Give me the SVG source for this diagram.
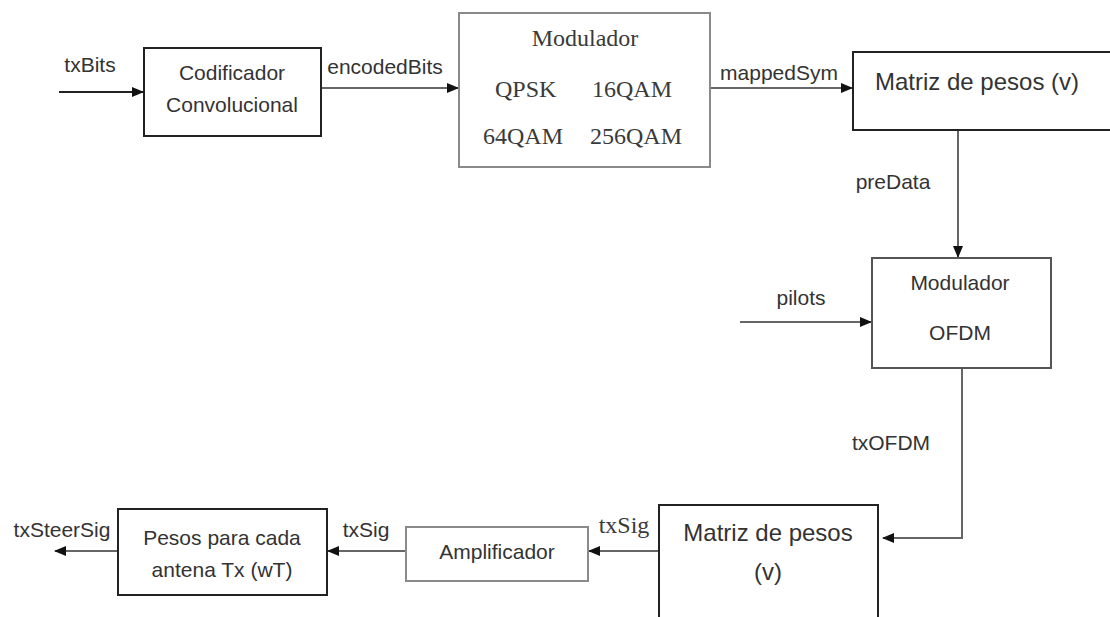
<svg xmlns="http://www.w3.org/2000/svg" width="1110" height="617" viewBox="0 0 1110 617">
  <style>
    .box { fill: #ffffff; stroke-width: 2; }
    .dark { stroke: #222222; }
    .grey { stroke: #8a8a8a; }
    .mid { stroke: #555555; }
    .sans { font-family: "Liberation Sans", Arial, sans-serif; fill: #333333; }
    .serif { font-family: "Liberation Serif", "Times New Roman", serif; fill: #3a3a3a; }
    .lbl { font-size: 21px; }
    .node { font-size: 21px; }
    .big { font-size: 24px; }
    .mid-anchor { text-anchor: middle; }
    .wire { fill: none; stroke: #666666; stroke-width: 2; }
    .wire-dark { fill: none; stroke: #222222; stroke-width: 2; }
  </style>
  <defs>
    <marker id="arrow" markerUnits="userSpaceOnUse" markerWidth="12" markerHeight="12" viewBox="0 0 12 12" refX="11" refY="6" orient="auto">
      <path d="M0,1 L12,6 L0,11 Z" fill="#111111"/>
    </marker>
  </defs>

  <rect width="1110" height="617" fill="#ffffff"/>

  <!-- connectors -->
  <g id="connectors">
    <line class="wire-dark" x1="59" y1="92" x2="143" y2="92" marker-end="url(#arrow)"/>
    <line class="wire" x1="321" y1="88" x2="458" y2="88" marker-end="url(#arrow)"/>
    <line class="wire" x1="710" y1="88" x2="852" y2="88" marker-end="url(#arrow)"/>
    <line class="wire" x1="958" y1="130" x2="958" y2="257" marker-end="url(#arrow)"/>
    <line class="wire" x1="740" y1="322" x2="871" y2="322" marker-end="url(#arrow)"/>
    <polyline class="wire" points="962,368 962,538 883,538" marker-end="url(#arrow)"/>
    <line class="wire" x1="659" y1="551" x2="589" y2="551" marker-end="url(#arrow)"/>
    <line class="wire" x1="406" y1="551" x2="328" y2="551" marker-end="url(#arrow)"/>
    <line class="wire" x1="118" y1="551" x2="55" y2="551" marker-end="url(#arrow)"/>

    <text class="sans lbl mid-anchor" x="90" y="72">txBits</text>
    <text class="sans lbl mid-anchor" x="385" y="74">encodedBits</text>
    <text class="sans lbl mid-anchor" x="779" y="80">mappedSym</text>
    <text class="sans lbl mid-anchor" x="893" y="189">preData</text>
    <text class="sans lbl mid-anchor" x="801" y="305">pilots</text>
    <text class="sans lbl mid-anchor" x="891" y="450">txOFDM</text>
    <text class="serif big mid-anchor" x="624" y="533" font-size="23">txSig</text>
    <text class="sans lbl mid-anchor" x="366" y="537" font-size="20">txSig</text>
    <text class="sans lbl mid-anchor" x="62" y="537">txSteerSig</text>
  </g>

  <!-- convolutional encoder -->
  <g id="codificador">
    <rect class="box dark" x="144" y="48" width="177" height="88"/>
    <text class="sans node mid-anchor" x="232" y="80">Codificador</text>
    <text class="sans node mid-anchor" x="232" y="112">Convolucional</text>
  </g>

  <!-- symbol mapper -->
  <g id="modulador">
    <rect class="box grey" x="459" y="13" width="251" height="154"/>
    <text class="serif big mid-anchor" x="585" y="46">Modulador</text>
    <text class="serif big" x="495" y="97">QPSK</text>
    <text class="serif big" x="592" y="97">16QAM</text>
    <text class="serif big" x="483" y="144">64QAM</text>
    <text class="serif big" x="590" y="144">256QAM</text>
  </g>

  <!-- precoding weights -->
  <g id="matriz-pesos-1">
    <rect class="box dark" x="853" y="52" width="262" height="78"/>
    <text class="sans big" x="875" y="90">Matriz de pesos (v)</text>
  </g>

  <!-- OFDM modulator -->
  <g id="modulador-ofdm">
    <rect class="box mid" x="872" y="258" width="179" height="110"/>
    <text class="sans node mid-anchor" x="960" y="290" font-size="22">Modulador</text>
    <text class="sans node mid-anchor" x="960" y="340" font-size="22">OFDM</text>
  </g>

  <!-- second weight matrix -->
  <g id="matriz-pesos-2">
    <rect class="box dark" x="659" y="505" width="219" height="130"/>
    <text class="sans big mid-anchor" x="768" y="541">Matriz de pesos</text>
    <text class="sans big mid-anchor" x="768" y="580">(v)</text>
  </g>

  <!-- amplifier -->
  <g id="amplificador">
    <rect class="box grey" x="406" y="527" width="182" height="54"/>
    <text class="sans node mid-anchor" x="497" y="559" font-size="22">Amplificador</text>
  </g>

  <!-- per-antenna weights -->
  <g id="pesos-antena">
    <rect class="box dark" x="118" y="509" width="209" height="86"/>
    <text class="sans node mid-anchor" x="222" y="545">Pesos para cada</text>
    <text class="sans node mid-anchor" x="222" y="577">antena Tx (wT)</text>
  </g>
</svg>
